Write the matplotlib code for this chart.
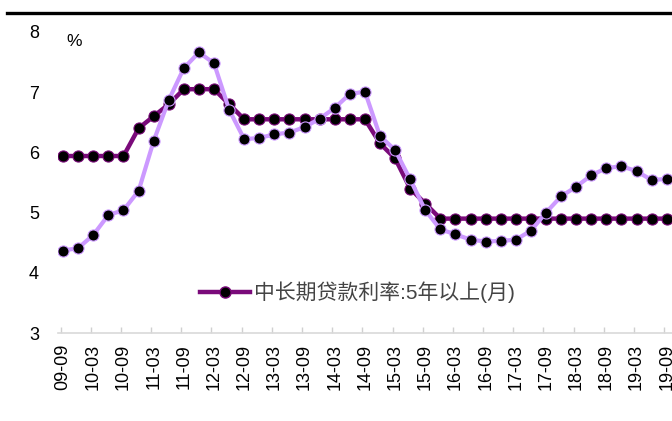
import matplotlib
matplotlib.use("Agg")
import matplotlib.pyplot as plt
from matplotlib.lines import Line2D


plt.rcParams["font.family"] = ["Liberation Sans", "Noto Sans CJK SC", "DejaVu Sans"]


# =========================================================
# Data (quarterly, 2009-09 .. 2019-09)
# =========================================================

quarters = [
    "09-09", "09-12", "10-03", "10-06", "10-09", "10-12", "11-03", "11-06",
    "11-09", "11-12", "12-03", "12-06", "12-09", "12-12", "13-03", "13-06",
    "13-09", "13-12", "14-03", "14-06", "14-09", "14-12", "15-03", "15-06",
    "15-09", "15-12", "16-03", "16-06", "16-09", "16-12", "17-03", "17-06",
    "17-09", "17-12", "18-03", "18-06", "18-09", "18-12", "19-03", "19-06",
    "19-09",
]

benchmark_5y = [
    5.94, 5.94, 5.94, 5.94, 5.94, 6.40, 6.60, 6.80,
    7.05, 7.05, 7.05, 6.80, 6.55, 6.55, 6.55, 6.55,
    6.55, 6.55, 6.55, 6.55, 6.55, 6.15, 5.90, 5.40,
    5.15, 4.90, 4.90, 4.90, 4.90, 4.90, 4.90, 4.90,
    4.90, 4.90, 4.90, 4.90, 4.90, 4.90, 4.90, 4.90,
    4.90,
]

weighted_avg = [
    4.37, 4.41, 4.63, 4.96, 5.04, 5.36, 6.19, 6.87,
    7.40, 7.66, 7.48, 6.71, 6.22, 6.24, 6.30, 6.33,
    6.42, 6.56, 6.74, 6.97, 7.01, 6.27, 6.04, 5.55,
    5.04, 4.72, 4.64, 4.55, 4.52, 4.53, 4.55, 4.70,
    5.00, 5.27, 5.43, 5.62, 5.74, 5.77, 5.69, 5.54,
    5.56,
]

legend_label = "中长期贷款利率:5年以上(月)"

DARK = "#7a0a7a"
LIGHT = "#cc99ff"


# =========================================================
# Figure
# =========================================================

fig = plt.figure(figsize=(6.72, 4.21), dpi=100)

ax = fig.add_axes([0.087, 0.209, 0.913, 0.715])

x = list(range(len(quarters)))

ax.plot(
    x, benchmark_5y,
    color=DARK, linewidth=3.2,
    marker="o", markersize=8,
    markerfacecolor="black", markeredgecolor=DARK, markeredgewidth=0.8,
    zorder=3,
)

ax.plot(
    x, weighted_avg,
    color=LIGHT, linewidth=3.0,
    marker="o", markersize=8,
    markerfacecolor="black", markeredgecolor=LIGHT, markeredgewidth=0.8,
    zorder=4,
)

ax.set_xlim(-0.31, 40.35)
ax.set_ylim(3, 8)

# labels every half year, tick marks just left of each label
ax.set_xticks(x[::2])
ax.set_xticklabels(quarters[::2], rotation=90, fontsize=13)
ax.set_xticks([i - 0.17 for i in x[::2]], minor=True)

ax.tick_params(axis="x", which="major", length=0, pad=8)
ax.tick_params(axis="x", which="minor", direction="in", length=4,
               color="#d0d0d0", width=1)

ax.set_yticks([3, 4, 5, 6, 7, 8])
ax.tick_params(axis="y", length=0, labelsize=13, pad=14)

for side in ["top", "right", "left"]:
    ax.spines[side].set_visible(False)

ax.spines["bottom"].set_color("#d9d9d9")
ax.spines["bottom"].set_linewidth(1.2)

ax.text(0.013, 0.995, "%", transform=ax.transAxes,
        fontsize=12.5, ha="left", va="top")

handle = Line2D(
    [], [], color=DARK, linewidth=3.2,
    marker="o", markersize=8,
    markerfacecolor="black", markeredgecolor=DARK,
)

leg = ax.legend(
    [handle], [legend_label],
    loc="center left", bbox_to_anchor=(0.2, 0.135),
    frameon=False, fontsize=15,
    handlelength=2.4, handletextpad=0.2,
)
for t in leg.get_texts():
    t.set_color("#444444")

# heavy rule across the top of the figure
fig.add_artist(Line2D([0.01, 1.0], [0.969, 0.969], transform=fig.transFigure,
                      color="black", linewidth=2.4))

fig.savefig("out.png", dpi=100)
